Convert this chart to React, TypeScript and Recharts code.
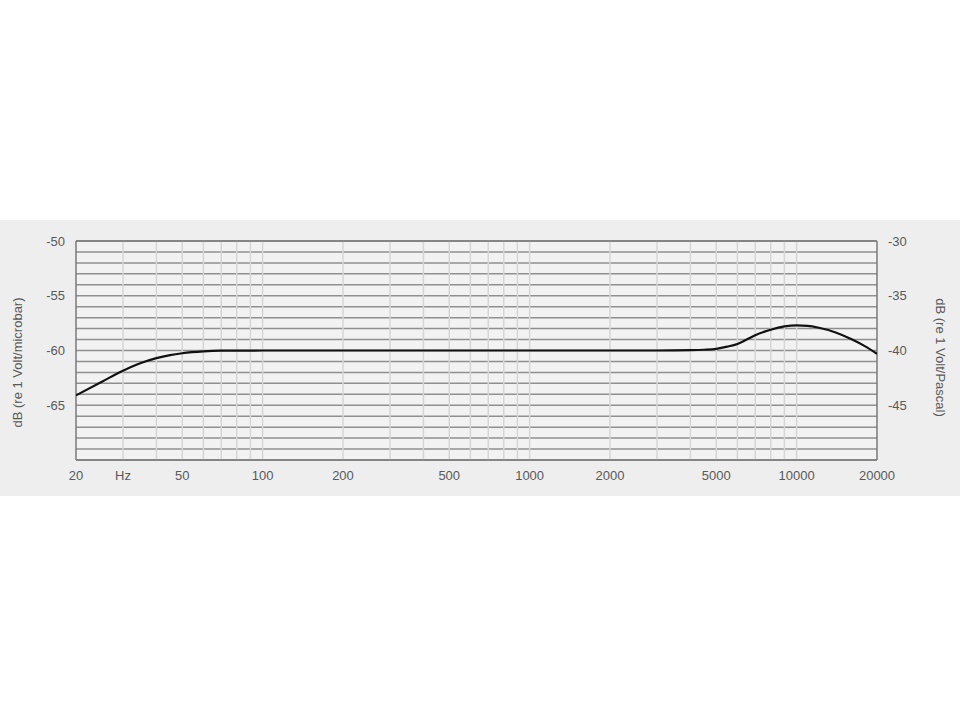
import React from 'react';
import { LineChart, Line, XAxis, YAxis, CartesianGrid, ReferenceLine } from 'recharts';

// Frequency response
const freqs = [20, 25, 30, 35, 40, 45, 50, 60, 70, 100, 200, 500, 1000, 2000, 3000, 4000, 4500, 5000, 5500, 6000, 6500, 7000, 8000, 9000, 10000, 11000, 12000, 14000, 16000, 18000, 20000];
const levels = [-64.1, -62.85, -61.85, -61.15, -60.7, -60.42, -60.25, -60.08, -60.02, -60, -60, -60, -60, -60, -60, -59.97, -59.93, -59.85, -59.65, -59.4, -59.0, -58.6, -58.1, -57.8, -57.7, -57.75, -57.9, -58.35, -58.95, -59.6, -60.3];

const xTicks = [20, 30, 50, 100, 200, 500, 1000, 2000, 5000, 10000, 20000];
const leftTicks = [-70, -69, -68, -67, -66, -65, -64, -63, -62, -61, -60, -59, -58, -57, -56, -55, -54, -53, -52, -51, -50];
const rightTicks = [-50, -49, -48, -47, -46, -45, -44, -43, -42, -41, -40, -39, -38, -37, -36, -35, -34, -33, -32, -31, -30];
const decadeSteps = [1, 2, 3, 4, 5, 6, 7, 8, 9];
const decades = [10, 100, 1000, 10000];

const leftTitle = 'dB (re 1 Volt/microbar)';
const rightTitle = 'dB (re 1 Volt/Pascal)';

// minor log grid lines 20..20000
const gridFreqs = decades
  .flatMap((d) => decadeSteps.map((s) => s * d))
  .filter((f) => f > 20 && f < 20000);

const data = freqs.map((f, i) => ({ freq: f, db: levels[i] }));

const FONT = '"Liberation Sans", Arial, sans-serif';
const TEXT = '#595959';

const tickStyle = { fontSize: 13, fill: TEXT, fontFamily: FONT };

const fmtY = (v: number, skip: number) => (v % 5 === 0 && v !== skip ? String(v) : '');

const leftLabel = (props: any) => {
  const vb = props.viewBox || { x: 0, y: 21, width: 76, height: 219 };
  const x = vb.x + 17;
  const y = vb.y + vb.height / 2 + 12;
  return (
    <text x={x} y={y} transform={`rotate(-90 ${x} ${y})`} textAnchor="middle" dominantBaseline="central"
      style={{ fontSize: 13, fill: TEXT, fontFamily: FONT }}>
      {leftTitle}
    </text>
  );
};

const rightLabel = (props: any) => {
  const vb = props.viewBox || { x: 877, y: 21, width: 83, height: 219 };
  const x = vb.x + 63;
  const y = vb.y + vb.height / 2 + 7;
  return (
    <text x={x} y={y} transform={`rotate(90 ${x} ${y})`} textAnchor="middle" dominantBaseline="central"
      style={{ fontSize: 13, fill: TEXT, fontFamily: FONT }}>
      {rightTitle}
    </text>
  );
};

export default function App() {
  return (
    <div style={{ position: 'absolute', left: 0, top: 0, width: 960, height: 720, background: '#fff' }}>
      <div style={{ position: 'absolute', left: 0, top: 220, width: 960, height: 276, background: '#eeeeee' }}>
        <LineChart width={960} height={275} data={data} margin={{ top: 21, right: 0, left: 0, bottom: 0 }}>
          <CartesianGrid yAxisId="left" vertical={false} stroke="none" fill="#f2f2f2" />
          {gridFreqs.map((f) => (
            <ReferenceLine key={f} yAxisId="left" x={f} stroke="#d6d6d6" strokeWidth={1.5} />
          ))}
          <CartesianGrid yAxisId="left" vertical={false} stroke="#8f8f8f" strokeWidth={1.5} />
          <ReferenceLine yAxisId="left" x={20} stroke="#7a7a7a" strokeWidth={1.5} />
          <ReferenceLine yAxisId="left" x={20000} stroke="#7a7a7a" strokeWidth={1.5} />
          <ReferenceLine yAxisId="left" y={-50} stroke="#7a7a7a" strokeWidth={1.5} />
          <ReferenceLine yAxisId="left" y={-70} stroke="#7a7a7a" strokeWidth={1.5} />
          <XAxis
            dataKey="freq"
            type="number"
            scale="log"
            domain={[20, 20000]}
            ticks={xTicks}
            allowDataOverflow
            height={35}
            axisLine={false}
            tickLine={false}
            tickSize={0}
            tickMargin={11}
            interval={0}
            tick={tickStyle}
            tickFormatter={(v: number) => (v === 30 ? 'Hz' : String(v))}
          />
          <YAxis
            yAxisId="left"
            orientation="left"
            width={76}
            domain={[-70, -50]}
            ticks={leftTicks}
            interval={0}
            axisLine={false}
            tickLine={false}
            tickSize={0}
            tickMargin={11}
            tick={tickStyle}
            tickFormatter={(v: number) => fmtY(v, -70)}
            label={{ content: leftLabel }}
          />
          <YAxis
            yAxisId="right"
            orientation="right"
            width={83}
            domain={[-50, -30]}
            ticks={rightTicks}
            interval={0}
            allowDataOverflow
            axisLine={false}
            tickLine={false}
            tickSize={0}
            tickMargin={11}
            tick={tickStyle}
            tickFormatter={(v: number) => fmtY(v, -50)}
            label={{ content: rightLabel }}
          />
          <Line
            yAxisId="left"
            type="monotone"
            dataKey="db"
            stroke="#111"
            strokeWidth={2.2}
            dot={false}
            isAnimationActive={false}
          />
        </LineChart>
      </div>
    </div>
  );
}
